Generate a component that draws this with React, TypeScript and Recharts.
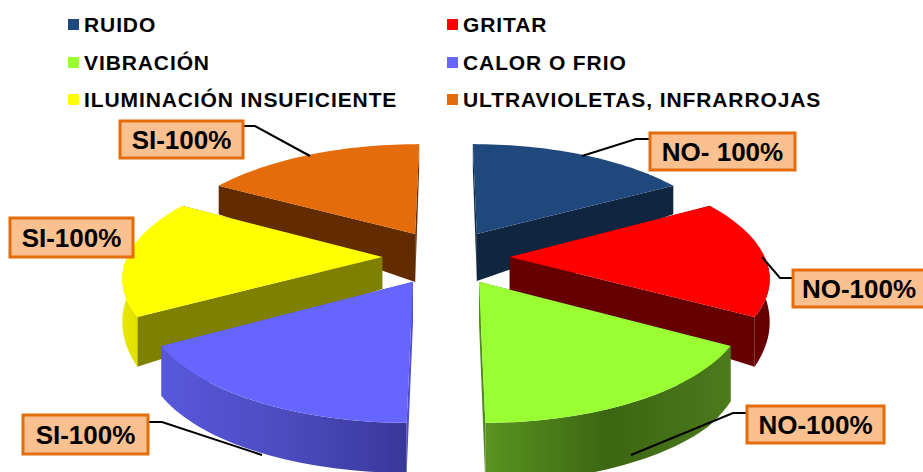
import { Legend, Pie, PieChart } from 'recharts';

const categories = ['RUIDO', 'GRITAR', 'VIBRACIÓN', 'CALOR O FRIO', 'ILUMINACIÓN INSUFICIENTE', 'ULTRAVIOLETAS, INFRARROJAS'];
const values = [100, 100, 100, 100, 100, 100];
const calloutTexts = ['NO- 100%', 'NO-100%', 'NO-100%', 'SI-100%', 'SI-100%', 'SI-100%'];

const topColors = ['#1f497d', '#ff0000', '#99ff33', '#6666ff', '#ffff00', '#e46c0a'];
const cutColors = ['#10253f', '#660000', '#4f8a1f', '#4f4fc8', '#808000', '#632c00'];
const rimColors = [
    ['#10253f', '#10253f'],
    ['#660000', '#660000'],
    ['#5a9420', '#3c6612', '#4c7a1c'],
    ['#5858dc', '#4c4cc0', '#38389a'],
    ['#e8e800', '#e0e000'],
    ['#632c00', '#632c00'],
];
const apexDepth = [47, 33, 40, 40, 32, 48];
const rimDepthCap = [99, 99, 60, 50, 99, 99];

// back to front, the pie has to paint far slices first
const paintOrder = [5, 0, 4, 1, 3, 2];

const callouts = [
    { x: 650, y: 133, w: 145, h: 37, line: '650,139 636,139 582,156' },
    { x: 793, y: 270, w: 132, h: 37, line: '793,278 780,278 762,257' },
    { x: 747, y: 406, w: 137, h: 37, line: '747,413 733,413 631,455' },
    { x: 23, y: 415, w: 125, h: 39, line: '148,422 162,422 262,455' },
    { x: 10, y: 218, w: 123, h: 39, line: '' },
    { x: 120, y: 121, w: 123, h: 37, line: '243,126 255,126 310,156' },
];

const chartData = categories.map((name, i) => ({ name, value: values[i], fill: topColors[i] }));

const TILT = 0.433;
const PERSPECTIVE = 0.156;
const EXPLODE = 0.25;

function Slice3D(props: any) {
    const { cx, cy, outerRadius, startAngle, endAngle, index } = props;
    // clockwise degrees from the top
    const a0 = 90 - Math.max(startAngle, endAngle);
    const a1 = 90 - Math.min(startAngle, endAngle);
    const mid = ((a0 + a1) / 2) * (Math.PI / 180);
    const ex = EXPLODE * Math.sin(mid);
    const ey = EXPLODE * Math.cos(mid);

    const project = (deg: number, r: number) => {
        const t = (deg * Math.PI) / 180;
        const u = ex + r * Math.sin(t);
        const v = ey + r * Math.cos(t);
        const w = 1 + PERSPECTIVE * v;
        return {
            x: cx + (outerRadius * u) / w,
            y: cy - (TILT * outerRadius * v) / w,
            depth: Math.min(39 / (w * w * w), rimDepthCap[index]),
        };
    };

    const steps = 36;
    const rim = [];
    for (let i = 0; i <= steps; i++) rim.push(project(a0 + ((a1 - a0) * i) / steps, 1));
    const apex = project(0, 0);
    const toStr = (pts: { x: number; y: number }[]) => pts.map((p) => `${p.x},${p.y}`).join(' ');
    const drop = (p: any) => ({ x: p.x, y: p.y + p.depth });
    const apexLow = { x: apex.x, y: apex.y + apexDepth[index] };

    const first = rim[0];
    const last = rim[rim.length - 1];

    const front = [];
    for (let i = 0; i <= steps; i++) {
        const deg = a0 + ((a1 - a0) * i) / steps;
        if (deg >= 90 && deg <= 270) front.push(rim[i]);
    }
    const gradId = `rim-${index}`;

    return (
        <g>
            <defs>
                <linearGradient id={gradId} x1="0" y1="0" x2="1" y2="0">
                    {rimColors[index].map((c, i) => (
                        <stop key={i} offset={i / (rimColors[index].length - 1)} stopColor={c} />
                    ))}
                </linearGradient>
            </defs>
            <polygon points={toStr([apex, first, drop(first), apexLow])} fill={cutColors[index]} />
            <polygon points={toStr([apex, last, drop(last), apexLow])} fill={cutColors[index]} />
            {front.length > 1 && (
                <polygon points={toStr([...front, ...front.map(drop).reverse()])} fill={`url(#${gradId})`} />
            )}
            <polygon points={toStr([apex, ...rim])} fill={topColors[index]} />
        </g>
    );
}

function renderCallout(props: any) {
    const c = callouts[props.index];
    return (
        <g key={props.index}>
            {c.line && <polyline points={c.line} fill="none" stroke="#000" strokeWidth={2} />}
            <rect x={c.x} y={c.y} width={c.w} height={c.h} fill="#fac090" stroke="#e46c0a" strokeWidth={3} />
            <text
                x={c.x + c.w / 2}
                y={c.y + c.h / 2 + 9}
                textAnchor="middle"
                fontFamily="'Liberation Sans', Arial, sans-serif"
                fontWeight="bold"
                fontSize={26}
                fill="#000"
            >
                {calloutTexts[props.index]}
            </text>
        </g>
    );
}

// the pies all report the same entries, so the grid reads the category list itself
function LegendGrid() {
    const rowY = [14, 52, 89];
    return (
        <div style={{ position: 'relative', width: 923, height: 110 }}>
            {categories.map((name, i) => {
                const left = i % 2 === 0 ? 68 : 447;
                const top = rowY[Math.floor(i / 2)];
                return (
                    <div key={name} style={{ position: 'absolute', left, top, whiteSpace: 'nowrap', height: 22 }}>
                        <span style={{ position: 'absolute', left: 0, top: 5, width: 11, height: 11, background: topColors[i] }} />
                        <span
                            style={{
                                position: 'absolute',
                                left: 16,
                                top: 0,
                                fontFamily: "'Liberation Sans', Arial, sans-serif",
                                fontWeight: 'bold',
                                fontSize: 21,
                                lineHeight: '22px',
                                letterSpacing: 0.9,
                                color: '#000',
                            }}
                        >
                            {name}
                        </span>
                    </div>
                );
            })}
        </div>
    );
}

export default function App() {
    return (
        <div style={{ position: 'absolute', left: 0, top: 0, width: 923, height: 472, overflow: 'hidden', background: '#fff' }}>
            <PieChart width={923} height={472} margin={{ top: 0, right: 0, bottom: 0, left: 0 }}>
                <Legend content={<LegendGrid />} wrapperStyle={{ position: 'absolute', left: 0, top: 0, width: 923 }} />
                {paintOrder.map((layer, order) => (
                    <Pie
                        key={layer}
                        data={chartData}
                        dataKey="value"
                        nameKey="name"
                        cx={446}
                        cy={257}
                        innerRadius={0}
                        outerRadius={255}
                        startAngle={90}
                        endAngle={-270}
                        isAnimationActive={false}
                        legendType={order === 0 ? 'square' : 'none'}
                        stroke="none"
                        shape={(p: any) => (p.index === layer ? <Slice3D {...p} /> : <g />)}
                        label={order === paintOrder.length - 1 ? renderCallout : false}
                        labelLine={false}
                    />
                ))}
            </PieChart>
        </div>
    );
}
